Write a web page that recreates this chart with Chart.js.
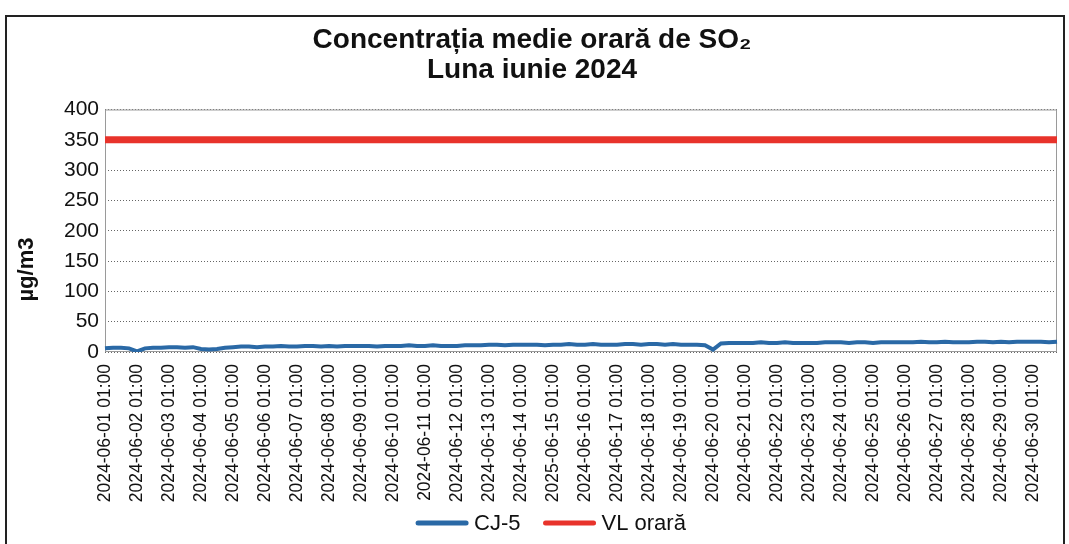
<!DOCTYPE html>
<html lang="ro">
<head>
<meta charset="UTF-8">
<title>Concentrația medie orară de SO2 - iunie 2024</title>
<style>
    body {
        margin: 0;
        padding: 0;
        background: #fff;
        width: 1069px;
        height: 544px;
        overflow: hidden;
        font-family: 'Liberation Sans', Arial, sans-serif;
    }
    #frame {
        position: absolute;
        left: 5px;
        top: 15px;
        width: 1056px;
        height: 540px;
        border: 2px solid #222;
        border-bottom: none;
    }
    #chart-box {
        position: relative;
        width: 1056px;
        height: 527px;
    }
</style>
</head>
<body>
<div id="frame">
    <div id="chart-box">
        <canvas id="chart"></canvas>
    </div>
</div>

<script src="https://cdn.jsdelivr.net/npm/chart.js"></script>
<script>
// x-axis tick labels, one per day (copied as printed, typo included)
const tickLabels = [
    '2024-06-01 01:00', '2024-06-02 01:00', '2024-06-03 01:00', '2024-06-04 01:00', '2024-06-05 01:00',
    '2024-06-06 01:00', '2024-06-07 01:00', '2024-06-08 01:00', '2024-06-09 01:00', '2024-06-10 01:00',
    '2024-06-11 01:00', '2024-06-12 01:00', '2024-06-13 01:00', '2024-06-14 01:00', '2025-06-15 01:00',
    '2024-06-16 01:00', '2024-06-17 01:00', '2024-06-18 01:00', '2024-06-19 01:00', '2024-06-20 01:00',
    '2024-06-21 01:00', '2024-06-22 01:00', '2024-06-23 01:00', '2024-06-24 01:00', '2024-06-25 01:00',
    '2024-06-26 01:00', '2024-06-27 01:00', '2024-06-28 01:00', '2024-06-29 01:00', '2024-06-30 01:00'
];
const hoursOfDay = ['01:00', '07:00', '13:00', '19:00'];

// CJ-5, 4 readings per day (µg/m3)
const cj5 = [
    6, 7, 7, 6,      1, 6, 7, 7,      // 01-02
    8, 8, 7, 8,      5, 4, 5, 7,      // 03-04
    8, 9, 9, 8,      9, 9, 10, 9,     // 05-06
    9, 10, 10, 9,    10, 9, 10, 10,   // 07-08
    10, 10, 9, 10,   10, 10, 11, 10,  // 09-10
    10, 11, 10, 10,  10, 11, 11, 11,  // 11-12
    12, 12, 11, 12,  12, 12, 12, 11,  // 13-14
    12, 12, 13, 12,  12, 13, 12, 12,  // 15-16
    12, 13, 13, 12,  13, 13, 12, 13,  // 17-18
    12, 12, 12, 11,  4, 14, 15, 15,   // 19-20
    15, 15, 16, 15,  15, 16, 15, 15,  // 21-22
    15, 15, 16, 16,  16, 15, 16, 16,  // 23-24
    15, 16, 16, 16,  16, 16, 17, 16,  // 25-26
    16, 17, 16, 16,  16, 17, 17, 16,  // 27-28
    17, 16, 17, 17,  17, 17, 16, 17   // 29-30
];

// hourly limit value
const vlOrara = 350;

const yTicks = [0, 50, 100, 150, 200, 250, 300, 350, 400];
const yTitle = 'µg/m3';

// categories: every day × 4 readings
const categories = [];
tickLabels.forEach(d => {
    const day = d.slice(0, 10);
    hoursOfDay.forEach(h => categories.push(day + ' ' + h));
});
const vlData = categories.map(() => vlOrara);

const FONT = "'Liberation Sans', Arial, sans-serif";

// grey frame round the plot, rotated axis title and the legend, placed like the original
const plotExtras = {
    id: 'plotExtras',
    beforeDatasetsDraw(chart) {
        const a = chart.chartArea;
        const ctx = chart.ctx;
        ctx.save();
        ctx.strokeStyle = '#9a9a9a';
        ctx.lineWidth = 1;
        ctx.setLineDash([]);
        ctx.strokeRect(a.left + 0.5, a.top + 0.5, a.right - a.left - 1, a.bottom - a.top - 1);
        ctx.restore();
    },
    afterDraw(chart) {
        const a = chart.chartArea;
        const ctx = chart.ctx;
        ctx.save();
        ctx.translate(20, a.top + (a.bottom - a.top) * 0.66);
        ctx.rotate(-Math.PI / 2);
        ctx.fillStyle = '#111';
        ctx.font = 'bold 22px ' + FONT;
        ctx.textAlign = 'center';
        ctx.textBaseline = 'middle';
        ctx.fillText(yTitle, 0, 0);
        ctx.restore();

        // legend
        const lineLen = 52, gapText = 6, gapItem = 23;
        ctx.save();
        ctx.font = '22px ' + FONT;
        const items = chart.data.datasets.map(ds => ({
            text: ds.label,
            color: ds.borderColor,
            w: lineLen + gapText + ctx.measureText(ds.label).width
        }));
        const total = items.reduce((s, it) => s + it.w, 0) + gapItem * (items.length - 1);
        let x = (a.left + a.right) / 2 - total / 2 - 30;
        const y = 506;
        items.forEach(it => {
            ctx.strokeStyle = it.color;
            ctx.lineWidth = 5;
            ctx.lineCap = 'round';
            ctx.beginPath();
            ctx.moveTo(x + 2, y);
            ctx.lineTo(x + lineLen - 2, y);
            ctx.stroke();
            ctx.fillStyle = '#111';
            ctx.textAlign = 'left';
            ctx.textBaseline = 'middle';
            ctx.fillText(it.text, x + lineLen + gapText, y + 1);
            x += it.w + gapItem;
        });
        ctx.restore();
    }
};

new Chart(document.getElementById('chart'), {
    type: 'line',
    data: {
        labels: categories,
        datasets: [{
            label: 'CJ-5',
            data: cj5,
            borderColor: '#2a69a6',
            backgroundColor: '#2a69a6',
            borderWidth: 4,
            pointRadius: 0,
            tension: 0
        }, {
            label: 'VL orară',
            data: vlData,
            borderColor: '#e8332b',
            backgroundColor: '#e8332b',
            borderWidth: 7,
            pointRadius: 0,
            tension: 0
        }]
    },
    options: {
        responsive: true,
        maintainAspectRatio: false,
        animation: false,
        layout: {
            padding: { left: 0, right: 6, top: 0, bottom: 40 }
        },
        plugins: {
            title: {
                display: true,
                text: ['Concentrația medie orară de SO₂', 'Luna iunie 2024'],
                color: '#111',
                font: { family: FONT, size: 28, weight: 'bold', lineHeight: 1.08 },
                padding: { top: 8, bottom: 24 }
            },
            legend: { display: false },
            tooltip: { enabled: false }
        },
        scales: {
            x: {
                grid: { display: false },
                border: { display: false },
                afterFit(scale) {
                    scale.height = 152;
                    scale.paddingLeft = 0;
                    scale.paddingRight = 0;
                },
                ticks: {
                    autoSkip: false,
                    minRotation: 90,
                    maxRotation: 90,
                    color: '#111',
                    padding: 4,
                    font: { family: FONT, size: 17.5 },
                    callback(value, index) {
                        return index % hoursOfDay.length === 0 ? tickLabels[index / hoursOfDay.length] : '';
                    }
                }
            },
            y: {
                min: 0,
                max: 400,
                afterFit(scale) { scale.width = 98; },
                afterBuildTicks(scale) { scale.ticks = yTicks.map(v => ({ value: v })); },
                grid: { color: '#666', lineWidth: 1, drawTicks: false },
                border: { display: false, dash: [1, 2] },
                ticks: {
                    color: '#111',
                    padding: 6,
                    font: { family: FONT, size: 21 }
                }
            }
        }
    },
    plugins: [plotExtras]
});
</script>
</body>
</html>
